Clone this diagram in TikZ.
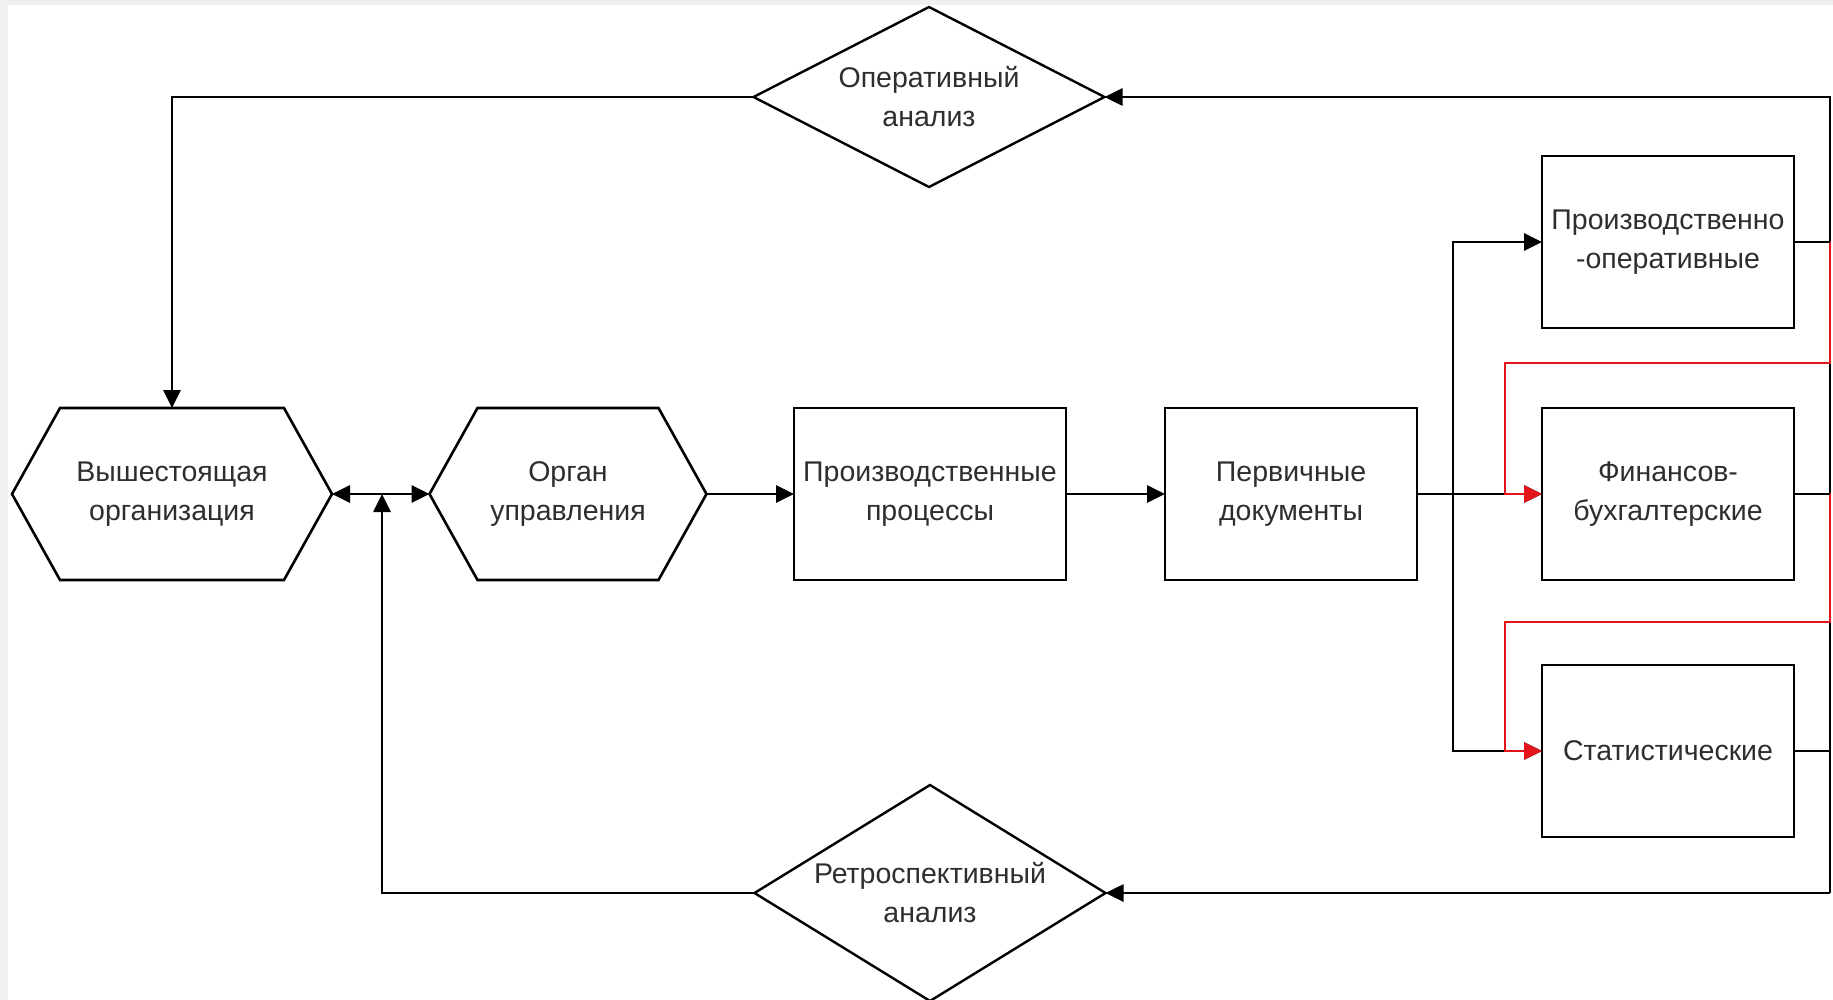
\documentclass[tikz,border=0pt]{standalone}
\usepackage{fontspec}
\setmainfont{Liberation Sans}
\usepackage{xcolor}
\usepackage{tikz}
\usetikzlibrary{arrows.meta}

\definecolor{txtgray}{HTML}{2E2E2E}
\definecolor{lnred}{HTML}{E3151B}

% outlines for the shapes drawn around plain nodes
\newcommand{\hexout}[1]{\draw[line width=2.6pt] (#1.west) -- ([xshift=48pt]#1.north west) -- ([xshift=-48pt]#1.north east) -- (#1.east) -- ([xshift=-48pt]#1.south east) -- ([xshift=48pt]#1.south west) -- cycle;}
\newcommand{\rhombout}[1]{\draw[line width=2.4pt] (#1.west) -- (#1.north) -- (#1.east) -- (#1.south) -- cycle;}

\begin{document}
\begin{tikzpicture}[x=1pt,y=-1pt,
    lbl/.style={align=center,text=txtgray,font=\fontsize{28.5}{39}\selectfont,inner sep=0pt,outer sep=0pt},
    blk/.style={lbl,draw,line width=2.8pt,minimum width=252pt,minimum height=172pt},
    hexa/.style={lbl,minimum height=172pt},
    rhomb/.style={lbl,minimum width=351pt},
    conn/.style={line width=2.7pt,-{Triangle[length=18pt,width=17pt]}},
    redconn/.style={conn,lnred,line width=2.1pt}]
  \useasboundingbox (0,0) rectangle (1833,1000);
  \fill[gray!12] (0,0) rectangle (1833,1000);
  \fill[white] (8,5) rectangle (1833,1000);

  % middle row
  \node[hexa,minimum width=320pt] (org) at (172,494) {Вышестоящая\\организация};
  \node[hexa,minimum width=277pt] (organ) at (568,494) {Орган\\управления};
  \node[blk,minimum width=272pt] (proc) at (930,494) {Производственные\\процессы};
  \node[blk] (perv) at (1291,494) {Первичные\\документы};
  \hexout{org}
  \hexout{organ}

  % kinds of records
  \node[blk] (prodop) at (1668,242) {Производственно\\-оперативные};
  \node[blk] (fin) at (1668,494) {Финансов-\\бухгалтерские};
  \node[blk] (stat) at (1668,751) {Статистические};

  % analysis
  \node[rhomb,minimum height=180pt] (oper) at (929,97) {Оперативный\\анализ};
  \node[rhomb,minimum height=216pt] (retro) at (930,893) {Ретроспективный\\анализ};
  \rhombout{oper}
  \rhombout{retro}

  \coordinate (jn) at (382,494);
  \coordinate (tr) at (1453,494);
  \coordinate (rt) at (1830,97);
  \coordinate (rb) at (1830,893);

  \draw[conn,{Triangle[length=18pt,width=17pt]}-{Triangle[length=18pt,width=17pt]}] (org.east) -- (organ.west);
  \draw[conn] (organ.east) -- (proc.west);
  \draw[conn] (proc.east) -- (perv.west);
  \draw[conn] (perv.east) -- (fin.west);
  \draw[conn] (tr) |- (prodop.west);
  \draw[conn] (tr) |- (stat.west);

  % feedback
  \draw[conn] (rb) -- (rt) -- (oper.east);
  \draw[conn] (rb) -- (retro.east);
  \draw[conn] (oper.west) -| (org.north);
  \draw[conn] (retro.west) -| (jn);

  % red links between the records
  \draw[redconn] (fin.east) -- ++(36,0) |- (1505,622) |- (stat.west);
  \draw[redconn] (prodop.east) -- ++(36,0) |- (1505,363) |- (fin.west);

  \draw[line width=2.7pt] (prodop.east) -- (prodop.east -| rt);
  \draw[line width=2.7pt] (fin.east) -- (fin.east -| rt);
  \draw[line width=2.7pt] (stat.east) -- (stat.east -| rt);
\end{tikzpicture}
\end{document}
